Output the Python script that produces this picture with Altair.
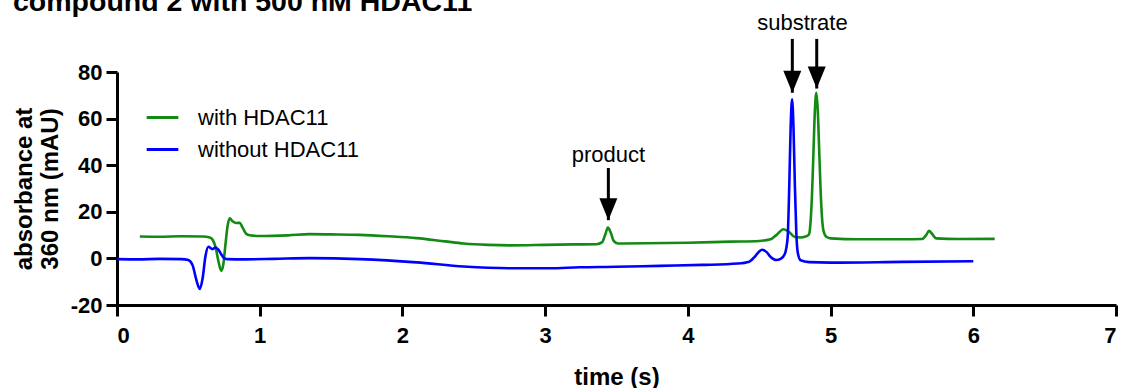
import altair as alt
import pandas as pd

# ---- data ----
green_t = [0.16, 0.30, 0.45, 0.60, 0.65, 0.67, 0.69, 0.71, 0.73, 0.745, 0.76, 0.775, 0.79, 0.81, 0.835,
           0.86, 0.88, 0.905, 0.93, 1.00, 1.20, 1.35, 1.50, 1.70, 1.90, 2.10, 2.30, 2.43, 2.60, 2.75,
           3.00, 3.20, 3.36, 3.40, 3.42, 3.44, 3.46, 3.48, 3.51, 3.70, 4.00, 4.30, 4.50, 4.58, 4.62,
           4.67, 4.71, 4.75, 4.79, 4.82, 4.84, 4.85, 4.86, 4.87, 4.88, 4.89, 4.90, 4.91, 4.92, 4.93,
           4.94, 4.95, 4.97, 5.00, 5.20, 5.50, 5.64, 5.67, 5.69, 5.71, 5.74, 5.90, 6.15]
green_v = [9.4, 9.3, 9.5, 9.4, 9.0, 8.0, 5.0, -1.0, -5.3, -2.5, 6.0, 14.0, 17.2, 15.9, 15.2,
           15.3, 13.2, 10.6, 9.9, 9.6, 9.9, 10.4, 10.3, 10.1, 9.5, 8.7, 7.3, 6.4, 5.8, 5.6,
           5.8, 6.0, 6.1, 7.0, 10.0, 13.2, 11.0, 7.5, 6.4, 6.5, 6.7, 7.2, 7.5, 8.2, 10.0,
           12.5, 11.3, 9.2, 9.0, 9.3, 9.8, 10.5, 15.9, 27.5, 45.4, 63.3, 71.1, 64.0, 47.0, 29.5,
           17.5, 12.0, 9.3, 8.6, 8.2, 8.2, 8.3, 10.0, 11.8, 10.6, 8.6, 8.3, 8.4]

blue_t = [0.00, 0.15, 0.30, 0.45, 0.50, 0.53, 0.555, 0.58, 0.60, 0.62, 0.64, 0.67, 0.69, 0.71, 0.73,
          0.75, 0.77, 0.90, 1.10, 1.35, 1.70, 2.10, 2.43, 2.75, 3.03, 3.24, 3.50, 3.80, 4.10, 4.35,
          4.43, 4.47, 4.50, 4.52, 4.55, 4.58, 4.62, 4.65, 4.68, 4.69, 4.70, 4.71, 4.72, 4.73, 4.74,
          4.75, 4.76, 4.77, 4.79, 4.85, 5.00, 5.50, 6.00]
blue_v = [-0.3, -0.4, -0.2, -0.3, -0.7, -3.0, -9.0, -13.1, -8.5, 1.0, 5.0, 4.0, 4.7, 3.8, 1.8,
          0.2, -0.3, -0.4, -0.2, 0.1, -0.3, -1.7, -3.5, -4.2, -4.2, -3.8, -3.6, -3.2, -2.8, -2.2,
          -1.4, 0.8, 3.0, 3.7, 2.8, 0.6, -0.7, -0.2, 2.0, 4.5, 9.8, 29.6, 55.6, 68.3, 56.5,
          31.0, 11.0, 2.5, -0.8, -1.6, -1.8, -1.5, -1.2]

series_names = ["with HDAC11", "without HDAC11"]
series_colors = ["#138a13", "#0000ff"]

arrow_t = [3.443, 4.732, 4.903]
arrow_tip = [16.4, 71.1, 72.9]
arrow_tail = [38.8, 94.2, 94.2]

label_text = ["product", "substrate"]
label_t = [3.443, 4.803]
label_v = [41.3, 98.0]

title_text = "compound 2 with 500 nM HDAC11"
x_ticks = [0, 1, 2, 3, 4, 5, 6, 7]
y_ticks = [-20, 0, 20, 40, 60, 80]

FONT = "Liberation Sans"

df = pd.concat([
    pd.DataFrame({"t": green_t, "v": green_v, "s": series_names[0], "o": 0}),
    pd.DataFrame({"t": blue_t, "v": blue_v, "s": series_names[1], "o": 1}),
])
arrows = pd.DataFrame({"t": arrow_t, "tip": arrow_tip, "tail": arrow_tail})
labels = pd.DataFrame({"t": label_t, "v": label_v, "txt": label_text})

xs = alt.Scale(domain=[0, 7], nice=False, zero=False)
ys = alt.Scale(domain=[-20, 80], nice=False, zero=False)

lines = alt.Chart(df).mark_line(strokeWidth=2.6, interpolate="monotone").encode(
    x=alt.X("t:Q", scale=xs, title="time (s)",
            axis=alt.Axis(values=x_ticks, labelExpr="datum.value + ''")),
    y=alt.Y("v:Q", scale=ys, title=["absorbance at", "360 nm (mAU)"],
            axis=alt.Axis(values=y_ticks, labelExpr="datum.value + ''")),
    color=alt.Color("s:N", scale=alt.Scale(domain=series_names, range=series_colors),
                    legend=alt.Legend(orient="none", legendX=28, legendY=28, title=None,
                                      symbolType="stroke", symbolSize=1000, symbolStrokeWidth=3,
                                      labelFontSize=22, labelFont=FONT, labelColor="black",
                                      labelLimit=0, labelOffset=18, rowPadding=3)),
    order=alt.Order("o:Q"),
    detail="s:N",
)

shafts = alt.Chart(arrows).mark_rule(color="black", strokeWidth=3).encode(
    x="t:Q", y="tail:Q", y2="tip:Q"
)
heads = alt.Chart(arrows).mark_point(
    shape="M-1,-1.22L1,-1.22L0,1.22Z", filled=True, fill="black", stroke="black",
    strokeWidth=0, opacity=1, size=324, yOffset=-11
).encode(x="t:Q", y="tip:Q")

ann = alt.Chart(labels).mark_text(font=FONT, fontSize=22, color="black",
                                  align="center", baseline="alphabetic").encode(
    x="t:Q", y="v:Q", text="txt:N"
)

title = alt.Chart(pd.DataFrame({"txt": [title_text]})).mark_text(
    font=FONT, fontSize=28.5, fontWeight="bold", color="black", align="left", baseline="alphabetic"
).encode(x=alt.value(-104), y=alt.value(-61), text="txt:N")

chart = alt.layer(lines, shafts, heads, ann, title).properties(
    width=999, height=233,
    padding={"left": 117, "top": 72, "right": 5, "bottom": 83},
    autosize=alt.AutoSizeParams(type="none"),
).configure_view(stroke=None).configure_axis(
    grid=False, domainColor="black", domainWidth=3, tickColor="black", tickWidth=3,
    tickSize=11, labelFont=FONT, labelFontSize=22, labelFontWeight="bold", labelColor="black",
    titleFont=FONT, titleFontSize=24, titleFontWeight="bold", titleColor="black",
).configure_axisX(labelPadding=9, titlePadding=19).configure_axisY(labelPadding=4, titlePadding=8)

chart.save("out.html", embed_options={"renderer": "svg", "actions": False})
